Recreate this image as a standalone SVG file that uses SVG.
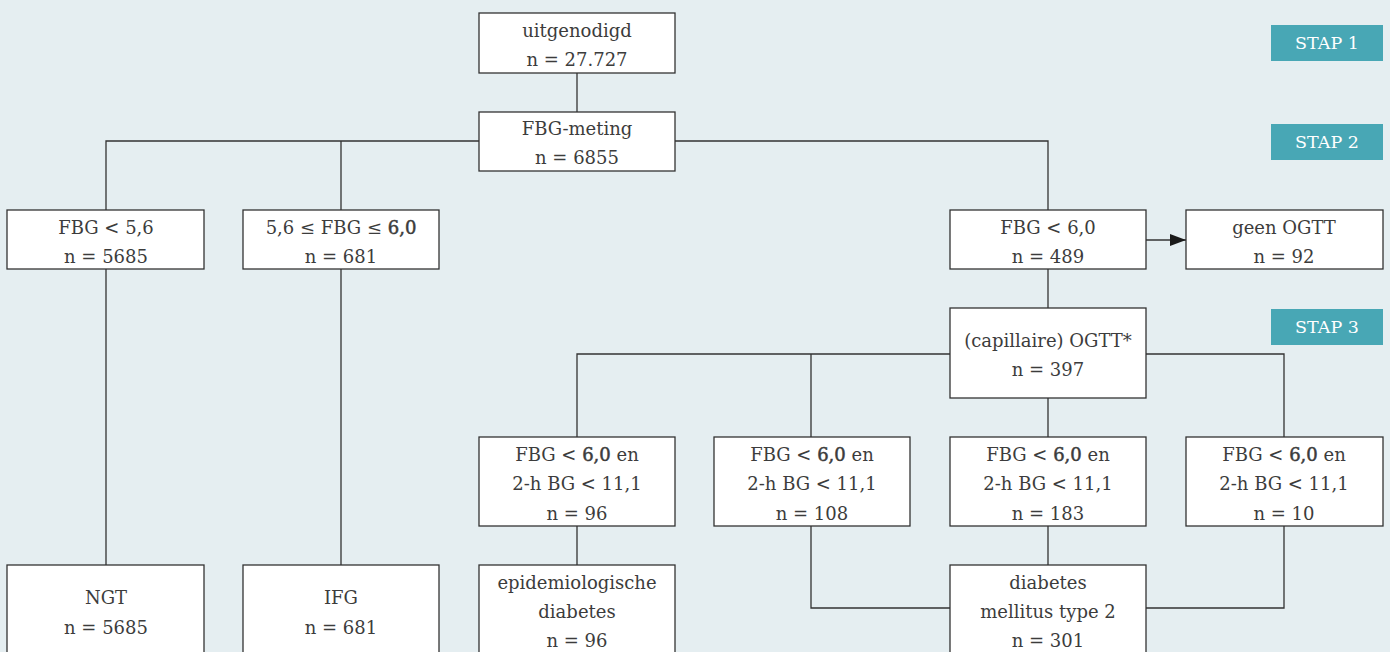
<svg xmlns="http://www.w3.org/2000/svg" width="1390" height="652" viewBox="0 0 1390 652">
<defs>
<style>
.bg{fill:#e5eef1}
.box{fill:#ffffff;stroke:#333333;stroke-width:1.3}
.t{font-family:"DejaVu Serif","Liberation Serif",serif;font-size:18px;fill:#3c3c3c;text-anchor:middle}
.b{stroke:#3c3c3c;stroke-width:0.5}
.stap{fill:#48a7b5}
.st{font-family:"DejaVu Serif","Liberation Serif",serif;font-size:17.5px;fill:#ffffff;text-anchor:middle}
.ln{fill:none;stroke:#333333;stroke-width:1.3}
</style>
<marker id="arr" markerWidth="16" markerHeight="12" refX="16" refY="6" orient="auto" markerUnits="userSpaceOnUse">
<path d="M0,0 L16,6 L0,12 Z" fill="#1a1a1a"/>
</marker>
</defs>
<rect class="bg" x="0" y="0" width="1390" height="652"/>
<g id="connectors">
<path class="ln" d="M577,73 V112"/>
<path class="ln" d="M106,210 V141 H479 M675,141 H1048 V210 M341,141 V210"/>
<path class="ln" d="M106,269 V565 M341,269 V565"/>
<path class="ln" d="M1146,240 H1186" marker-end="url(#arr)"/>
<path class="ln" d="M1048,269 V308"/>
<path class="ln" d="M577,437 V354 H950 M1146,354 H1284 V437 M811,354 V437 M1048,398 V437"/>
<path class="ln" d="M577,526 V565 M1048,526 V565 M811,526 V608 H950 M1284,526 V608 H1146"/>
</g>
<g id="stap1"><rect class="stap" x="1271" y="25" width="112" height="36"/><text class="st" x="1327" y="49">STAP 1</text></g>
<g id="stap2"><rect class="stap" x="1271" y="124" width="112" height="36"/><text class="st" x="1327" y="148">STAP 2</text></g>
<g id="stap3"><rect class="stap" x="1271" y="309" width="112" height="36"/><text class="st" x="1327" y="333">STAP 3</text></g>
<g id="uitgenodigd"><rect class="box" x="479" y="13" width="196" height="60"/><text class="t" x="577" y="37">uitgenodigd</text><text class="t" x="577" y="66">n = 27.727</text></g>
<g id="fbgmeting"><rect class="box" x="479" y="112" width="196" height="59"/><text class="t" x="577" y="135">FBG-meting</text><text class="t" x="577" y="164">n = 6855</text></g>
<g id="fbg56"><rect class="box" x="7" y="210" width="197" height="59"/><text class="t" x="106" y="234">FBG &lt; 5,6</text><text class="t" x="106" y="263">n = 5685</text></g>
<g id="fbg56-60"><rect class="box" x="243" y="210" width="196" height="59"/><text class="t" x="341" y="234">5,6 ≤ FBG ≤ <tspan class="b">6,0</tspan></text><text class="t" x="341" y="263">n = 681</text></g>
<g id="fbg60"><rect class="box" x="950" y="210" width="196" height="59"/><text class="t" x="1048" y="234">FBG &lt; 6,0</text><text class="t" x="1048" y="263">n = 489</text></g>
<g id="geenogtt"><rect class="box" x="1186" y="210" width="197" height="59"/><text class="t" x="1284" y="234">geen OGTT</text><text class="t" x="1284" y="263">n = 92</text></g>
<g id="ogtt"><rect class="box" x="950" y="308" width="196" height="90"/><text class="t" x="1048" y="347">(capillaire) OGTT*</text><text class="t" x="1048" y="376">n = 397</text></g>
<g id="g96"><rect class="box" x="479" y="437" width="196" height="89"/><text class="t" x="577" y="461">FBG &lt; <tspan class="b">6,0</tspan> en</text><text class="t" x="577" y="490">2-h BG &lt; 11,1</text><text class="t" x="577" y="520">n = 96</text></g>
<g id="g108"><rect class="box" x="714" y="437" width="196" height="89"/><text class="t" x="812" y="461">FBG &lt; <tspan class="b">6,0</tspan> en</text><text class="t" x="812" y="490">2-h BG &lt; 11,1</text><text class="t" x="812" y="520">n = 108</text></g>
<g id="g183"><rect class="box" x="950" y="437" width="196" height="89"/><text class="t" x="1048" y="461">FBG &lt; <tspan class="b">6,0</tspan> en</text><text class="t" x="1048" y="490">2-h BG &lt; 11,1</text><text class="t" x="1048" y="520">n = 183</text></g>
<g id="g10"><rect class="box" x="1186" y="437" width="197" height="89"/><text class="t" x="1284" y="461">FBG &lt; <tspan class="b">6,0</tspan> en</text><text class="t" x="1284" y="490">2-h BG &lt; 11,1</text><text class="t" x="1284" y="520">n = 10</text></g>
<g id="ngt"><rect class="box" x="7" y="565" width="197" height="100"/><text class="t" x="106" y="604">NGT</text><text class="t" x="106" y="634">n = 5685</text></g>
<g id="ifg"><rect class="box" x="243" y="565" width="196" height="100"/><text class="t" x="341" y="604">IFG</text><text class="t" x="341" y="634">n = 681</text></g>
<g id="epi"><rect class="box" x="479" y="565" width="196" height="100"/><text class="t" x="577" y="589">epidemiologische</text><text class="t" x="577" y="618">diabetes</text><text class="t" x="577" y="647">n = 96</text></g>
<g id="dm2"><rect class="box" x="950" y="565" width="196" height="100"/><text class="t" x="1048" y="589">diabetes</text><text class="t" x="1048" y="618">mellitus type 2</text><text class="t" x="1048" y="647">n = 301</text></g>
</svg>
